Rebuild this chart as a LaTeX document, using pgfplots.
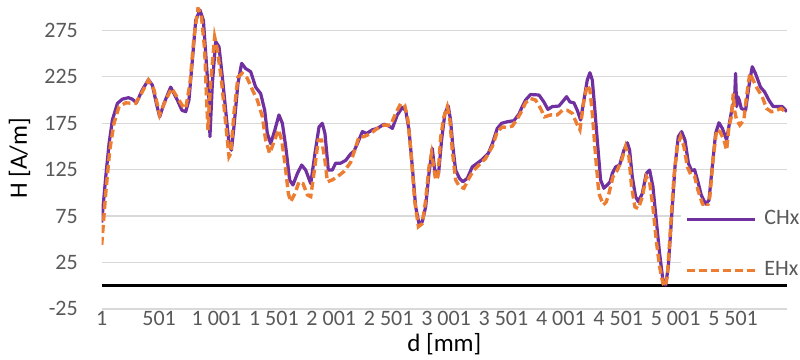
\documentclass[border=0pt]{standalone}
\usepackage{fontspec}
\setmainfont{Carlito}
\usepackage{pgfplots}
\pgfplotsset{compat=1.18}
\definecolor{chx}{HTML}{7030A0}
\definecolor{ehx}{HTML}{ED7D31}
\definecolor{tickgray}{HTML}{595959}
\definecolor{gridgray}{HTML}{D9D9D9}
\begin{document}
\begin{tikzpicture}
\useasboundingbox (0,0) rectangle (800bp,360bp);
\begin{axis}[
  at={(101.7bp,51.1bp)}, anchor=south west,
  scale only axis, width=685.3bp, height=301.6bp,
  xmin=1, xmax=5971, ymin=-25, ymax=300,
  axis line style={draw=none},
  tick style={draw=none}, major tick length=0pt,
  xtick={1,501,1001,1501,2001,2501,3001,3501,4001,4501,5001,5501},
  xticklabels={1,501,1\ 001,1\ 501,2\ 001,2\ 501,3\ 001,3\ 501,4\ 001,4\ 501,5\ 001,5\ 501},
  ytick={-25,25,75,125,175,225,275},
  yticklabels={-25,25,75,125,175,225,275},
  /pgf/number format/assume math mode=true,
  ymajorgrids, grid style={gridgray, line width=1.2bp},
  ticklabel style={font=\fontsize{22bp}{26bp}\selectfont, text=tickgray, inner sep=0pt},
  yticklabel style={xshift=-23.7bp},
  xticklabel style={yshift=-1.8bp},
  xlabel={d [mm]}, ylabel={H [A/m]},
  label style={font=\fontsize{25bp}{30bp}\selectfont, text=black},
  xlabel style={at={(axis description cs:0.5,0)}, anchor=center, yshift=-35.1bp},
  ylabel style={at={(axis description cs:0,0.5)}, anchor=center, rotate=0, yshift=82.1bp},
  legend style={at={(0.845,0.341)}, anchor=north west, draw=none, fill=white,
    inner sep=4bp, row sep=33bp, column sep=8bp,
    font=\fontsize{22bp}{26bp}\selectfont, text=tickgray,
    nodes={inner sep=0pt, text height=14bp, text depth=4bp}},
  legend image code/.code={\draw[#1] (0bp,0bp) -- (68bp,0bp);},
  legend cell align=left,
]
\addplot[black, line width=3bp, forget plot] coordinates {(1,0) (5971,0)};
\addplot[chx, line width=3.2bp, line join=round] coordinates {
(1,68) (36,117) (65,153) (94,178.5) (138,196.5) (181,201) (234,202.6) (268,201) (303,197) (355,211) (408,222) (443,216) (477,196.5) (506,182) (544,196.5) (602,214) (660,200) (700,189) (733,187.5) (761,200) (791,243) (820,286) (857,297) (887,286) (915,236) (936,200) (944,160.6) (965,218) (994,263) (1023,257.5) (1052,225) (1081,189) (1110,153) (1131,146) (1153,171) (1188,218) (1220,239.6) (1255,234) (1299,230.6) (1342,214) (1386,207) (1421,189) (1444,164) (1473,153) (1510,168) (1545,184) (1575,175) (1604,150) (1638,114) (1667,108.5) (1706,121) (1743,130) (1778,124.6) (1822,110) (1859,142.6) (1894,171) (1923,175) (1946,164) (1975,124.6) (2010,124.6) (2039,132) (2082,132) (2126,135) (2170,142) (2199,145) (2228,153) (2272,166) (2309,164) (2359,168) (2402,169.5) (2460,174) (2503,172) (2533,169.5) (2576,184) (2620,192) (2649,189) (2678,168) (2707,128) (2736,85) (2765,67) (2794,69) (2823,85) (2852,121) (2881,148) (2901,125) (2935,120) (2962,157) (2991,185.7) (3020,193.6) (3040,178.5) (3060,150) (3084,124.6) (3118,115.7) (3147,112) (3186,115.7) (3229,128) (3273,132) (3316,136) (3369,142.6) (3404,153) (3447,169.5) (3485,175) (3535,176.7) (3592,177.8) (3636,185) (3665,193) (3693,200) (3737,206) (3810,205.5) (3853,198) (3888,190) (3927,193) (3984,193.6) (4014,198) (4051,203.7) (4080,198) (4115,197) (4144,189) (4173,178.5) (4202,200) (4231,221.6) (4254,229.5) (4275,221.6) (4295,193) (4318,157) (4347,114) (4376,105) (4405,108.5) (4430,112) (4449,121) (4478,128) (4513,130) (4550,146) (4580,154) (4600,146) (4623,117.5) (4652,96) (4676,90.5) (4711,99.5) (4745,121) (4774,124.6) (4803,106.7) (4832,70.8) (4861,35) (4890,6) (4914,0.7) (4937,20.5) (4966,74) (4995,128) (5024,160.6) (5053,166) (5082,157) (5112,132) (5140,124) (5166,125) (5195,112) (5224,97.7) (5262,88) (5291,92) (5320,128) (5349,164) (5378,175.6) (5408,169.5) (5445,157) (5474,178.5) (5495,193) (5514,200) (5523,228.8) (5532,193) (5543,203.7) (5555,200) (5573,191) (5610,189) (5638,214) (5668,236) (5696,228.8) (5740,214) (5775,209) (5813,200) (5851,193) (5892,193) (5930,193) (5971,187.5)
};
\addlegendentry{CHx}
\addplot[ehx, line width=3.4bp, dash pattern=on 8bp off 4bp] coordinates {
(1,44) (36,99.5) (71,146) (108,175) (152,193) (210,197) (297,196.5) (355,209) (408,221.6) (457,211) (506,184) (558,200) (611,212.6) (674,200) (710,193) (733,191) (770,218) (805,268) (840,299) (869,292) (898,254) (915,200) (927,167.7) (950,218) (985,268) (1009,254) (1044,221.6) (1081,175) (1110,139) (1125,142.6) (1153,185.7) (1188,225) (1226,228.8) (1270,223.4) (1314,211) (1357,200) (1401,182) (1429,157) (1464,142.6) (1502,155) (1540,168) (1569,157) (1597,132) (1627,99.5) (1647,90.5) (1685,99.5) (1720,112) (1755,110) (1793,97.7) (1822,96) (1850,121) (1888,157) (1917,157) (1946,135) (1967,112) (2010,114) (2054,117.5) (2111,123) (2170,133) (2205,146) (2242,160.6) (2286,160.6) (2344,164) (2402,169.5) (2460,173) (2518,173) (2562,185.7) (2605,196) (2640,194.7) (2669,178.5) (2698,139) (2727,92) (2760,63.6) (2794,67) (2823,92) (2852,128) (2875,142.6) (2910,114) (2930,117.5) (2954,160) (2982,182) (3012,193) (3032,182) (3055,146) (3084,114) (3118,106.7) (3156,105) (3200,115.7) (3243,124.6) (3287,130) (3345,137) (3404,150) (3447,166) (3491,171) (3535,170.6) (3578,172) (3622,180) (3650,186) (3693,197) (3737,201.8) (3781,200) (3824,191) (3859,182) (3912,184) (3970,184) (4014,189) (4057,189) (4101,185.7) (4138,175) (4167,168) (4202,200) (4231,216) (4254,211) (4275,185.7) (4304,139) (4332,99.5) (4371,87) (4395,90) (4420,99.5) (4455,117.5) (4493,124.6) (4530,135) (4565,150) (4594,139) (4617,106.7) (4646,85) (4676,83) (4711,96) (4745,117.5) (4774,112) (4803,85) (4832,49) (4861,20.5) (4890,2.5) (4908,-1) (4928,9.7) (4957,63.6) (4986,117.5) (5015,150) (5044,160.6) (5073,150) (5103,128) (5135,119) (5166,118) (5195,103) (5233,88.7) (5271,81.5) (5299,96) (5329,139) (5358,168) (5387,166) (5422,157) (5445,146) (5465,171) (5486,182) (5503,207) (5514,189) (5532,178.5) (5560,173) (5595,178.5) (5618,203.7) (5647,228.8) (5676,221.6) (5711,212.6) (5755,203.7) (5793,191) (5834,187.5) (5880,189) (5921,191) (5967,185.7)
};
\addlegendentry{EHx}
\end{axis}
\end{tikzpicture}
\end{document}
